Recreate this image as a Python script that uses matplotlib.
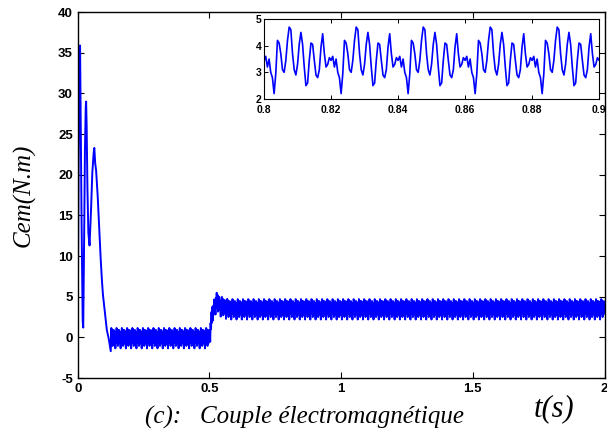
import numpy as np
import matplotlib
matplotlib.use("Agg")
import matplotlib.pyplot as plt

plt.rcParams["axes.unicode_minus"] = False

# ---- data ----
# start-up transient (s, N.m)
trans_t = [0.000, 0.003, 0.006, 0.009, 0.011, 0.013, 0.016, 0.019, 0.021, 0.024,
           0.027, 0.030, 0.032, 0.034, 0.036, 0.040, 0.045, 0.050, 0.055, 0.060,
           0.063, 0.066, 0.070, 0.075, 0.080, 0.085, 0.090, 0.095, 0.100, 0.105,
           0.110, 0.117, 0.122, 0.126]
trans_v = [0.0, 20.0, 30.0, 35.9, 29.0, 20.0, 10.0, 2.0, 1.2, 10.0,
           22.0, 28.0, 29.0, 26.0, 20.0, 13.0, 11.3, 15.0, 20.0, 22.5,
           23.3, 21.5, 20.5, 18.0, 14.5, 11.0, 8.0, 5.5, 4.0, 2.5,
           1.0, 0.0, -1.0, -1.8]

# one 0.02 s period of the torque ripple (read on the zoom, 0.0005 s steps)
ripple_period = [3.45, 3.6, 3.2, 3.5, 3.0, 2.8, 2.2, 2.95, 4.2, 4.1,
                 3.7, 3.1, 3.0, 3.45, 4.2, 4.7, 4.6, 3.7, 3.1, 2.9,
                 3.3, 4.05, 4.5, 4.05, 3.2, 2.5, 2.6, 3.45, 4.1, 4.05,
                 3.45, 2.9, 2.8, 3.1, 3.95, 4.45, 3.7, 3.2, 3.3, 3.55]
ripple_mean = 3.5

# mean torque level after the start-up
level_t = [0.126, 0.500, 0.505, 0.512, 0.520, 0.528, 0.545, 0.570, 2.0]
level_v = [-0.05, -0.05, 1.3, 3.0, 4.0, 4.3, 3.8, 3.5, 3.5]

xticks_main = [0, 0.5, 1, 1.5, 2]
yticks_main = [-5, 0, 5, 10, 15, 20, 25, 30, 35, 40]
xticks_in = [0.8, 0.82, 0.84, 0.86, 0.88, 0.9]
yticks_in = [2, 3, 4, 5]

# ---- build the signal ----
dt = 0.0005
t = np.arange(0, 2.0 + dt / 2, dt)
n_per = len(ripple_period)
idx = np.round(t / dt).astype(int) % n_per
rip = np.array(ripple_period)[idx] - ripple_mean
lvl = np.interp(t, level_t, level_v)
y = lvl + rip
mask = t < trans_t[-1]
y[mask] = np.interp(t[mask], trans_t, trans_v)

# ---- figure ----
fig = plt.figure(figsize=(6.07, 4.34), dpi=100)
ax = fig.add_axes([0.128, 0.129, 0.868, 0.843])
ax.plot(t, y, color=(0, 0, 1), lw=1.4)
ax.set_xlim(0, 2)
ax.set_ylim(-5, 40)
ax.set_xticks(xticks_main)
ax.set_xticklabels(["0", "0.5", "1", "1.5", "2"])
ax.set_yticks(yticks_main)
ax.tick_params(direction="in", top=True, right=True, length=4, width=0.8, pad=3.5)
for lab in ax.get_xticklabels() + ax.get_yticklabels():
    lab.set_fontfamily("Liberation Sans")
    lab.set_fontweight("bold")
    lab.set_fontsize(9.5)
for s in ax.spines.values():
    s.set_linewidth(1.0)

fig.text(0.040, 0.55, "Cem(N.m)", rotation=90, family="Liberation Serif",
         style="italic", fontsize=18, ha="center", va="center")
fig.text(0.913, 0.058, "t(s)", family="Liberation Serif", style="italic",
         fontsize=22, ha="center", va="center")
fig.text(0.502, 0.039, "(c):   Couple électromagnétique", family="Liberation Serif",
         style="italic", fontsize=18, ha="center", va="center")

ins = fig.add_axes([0.435, 0.772, 0.552, 0.184])
ins.plot(t, y, color=(0, 0, 1), lw=1.2)
ins.set_xlim(0.8, 0.9)
ins.set_ylim(2, 5)
ins.set_xticks(xticks_in)
ins.set_xticklabels(["0.8", "0.82", "0.84", "0.86", "0.88", "0.9"])
ins.set_yticks(yticks_in)
ins.tick_params(axis="x", pad=4.5)
ins.tick_params(axis="y", pad=2)
ins.tick_params(direction="in", top=True, right=True, length=3, width=0.7)
for lab in ins.get_xticklabels() + ins.get_yticklabels():
    lab.set_fontfamily("Liberation Sans")
    lab.set_fontweight("bold")
    lab.set_fontsize(7.5)
for s in ins.spines.values():
    s.set_linewidth(0.8)

fig.savefig("out.png", dpi=100)
